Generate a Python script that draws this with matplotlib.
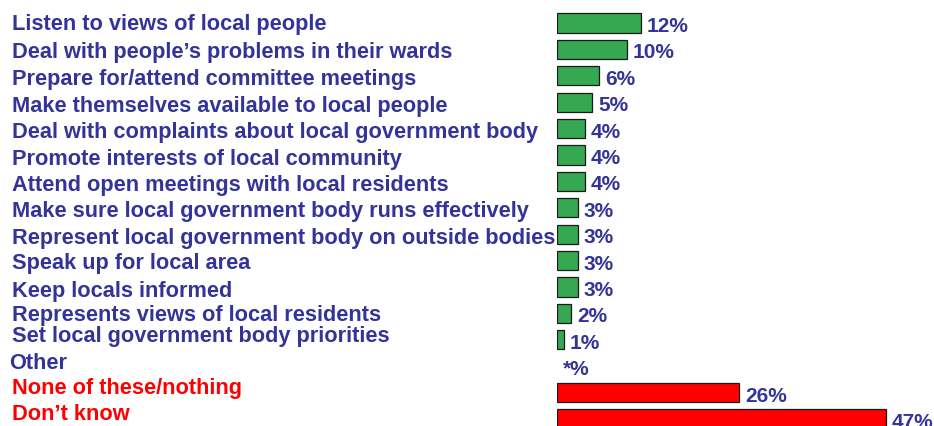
import matplotlib
matplotlib.use('Agg')
import matplotlib.pyplot as plt
from matplotlib import transforms

# データ
labels = [
    'Listen to views of local people',
    'Deal with people\u2019s problems in their wards',
    'Prepare for/attend committee meetings',
    'Make themselves available to local people',
    'Deal with complaints about local government body',
    'Promote interests of local community',
    'Attend open meetings with local residents',
    'Make sure local government body runs effectively',
    'Represent local government body on outside bodies',
    'Speak up for local area',
    'Keep locals informed',
    'Represents views of local residents',
    'Set local government body priorities',
    'Other',
    'None of these/nothing',
    'Don\u2019t know',
]
values = [12, 10, 6, 5, 4, 4, 4, 3, 3, 3, 3, 2, 1, 0, 26, 47]
value_labels = ['12%', '10%', '6%', '5%', '4%', '4%', '4%', '3%', '3%', '3%',
                '3%', '2%', '1%', '*%', '26%', '47%']
groups = ['act'] * 13 + ['other'] + ['none'] * 2

# 見た目の設定
BLUE = '#333399'
GREEN = '#36A852'
RED = '#FF0000'
bar_colors = {'act': GREEN, 'other': 'none', 'none': RED}
text_colors = {'act': BLUE, 'other': BLUE, 'none': RED}

W, H = 934, 426
bar_x0 = 557          # 棒の左端 (px)
px_per_pct = 7.0
row0, row_step = 23, 26.4

# ラベルのずれ (px, 下向きが正)
label_dy = [-1, 0.6, 1.2, 1.8, 1.4, 2, 1.6, 1.2, 1.8, 0.4, 2, -0.4, -5.8, -5.2, -6.6, -7]
label_x = [12] * 13 + [9] + [12, 12]

plt.rcParams['font.family'] = ['Liberation Sans', 'DejaVu Sans']
plt.rcParams['font.weight'] = 'bold'

fig = plt.figure(figsize=(W / 100, H / 100), dpi=100)
ax = fig.add_axes([bar_x0 / W, 0, 1 - bar_x0 / W, 1])
ax.set_xlim(0, (W - bar_x0) / px_per_pct)
ax.set_ylim((H - row0) / row_step, -row0 / row_step)
ax.axis('off')

ypos = list(range(len(labels)))
for y, v, g in zip(ypos, values, groups):
    if g == 'other':
        continue
    ax.barh(y, v, height=0.73, color=bar_colors[g], edgecolor='#1a1a1a', linewidth=0.9)

fs_lab = 15.7
fs_val = 15.0
cap_lab = 0.716 * fs_lab * 100 / 72 / 2
cap_val = 0.716 * fs_val * 100 / 72 / 2

blend = transforms.blended_transform_factory(fig.transFigure, ax.transData)
for y, lab, g, dy, lx in zip(ypos, labels, groups, label_dy, label_x):
    tr = transforms.offset_copy(blend, fig=fig, x=lx, y=-(dy + cap_lab), units='dots')
    ax.text(0, y, lab, transform=tr, ha='left', va='baseline',
            fontsize=fs_lab, fontweight='bold', color=text_colors[g])

for y, v, t in zip(ypos, values, value_labels):
    tr = transforms.offset_copy(ax.transData, fig=fig, x=6, y=-(1.5 + cap_val), units='dots')
    ax.text(v, y, t, transform=tr, ha='left', va='baseline',
            fontsize=fs_val, fontweight='bold', color=BLUE)

fig.savefig('out.png', dpi=100)
